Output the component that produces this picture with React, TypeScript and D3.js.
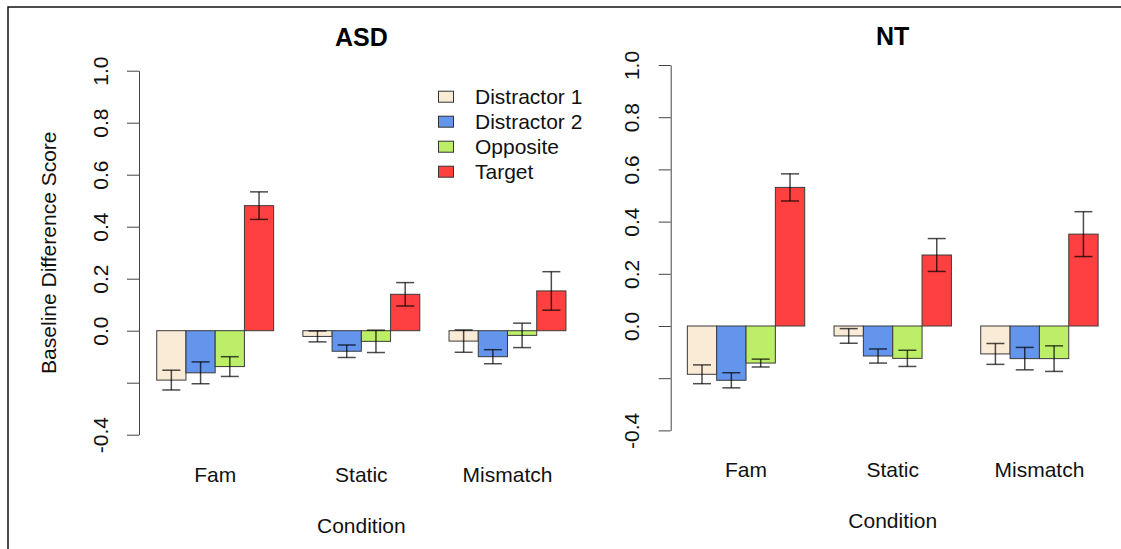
import React, { useEffect, useRef } from 'react';
import * as d3 from 'd3';

// Data
const conditions = ['Fam', 'Static', 'Mismatch'];
const seriesNames = ['Distractor 1', 'Distractor 2', 'Opposite', 'Target'];
const seriesColors = ['#FAEBD7', '#6495ED', '#BCEE68', '#FF4040'];

// means per series, one value per condition
const asdMeans = [
  [-0.19, -0.022, -0.04],
  [-0.162, -0.079, -0.1],
  [-0.138, -0.041, -0.018],
  [0.481, 0.14, 0.153],
];
const asdSE = [
  [0.038, 0.021, 0.043],
  [0.042, 0.024, 0.027],
  [0.038, 0.043, 0.047],
  [0.053, 0.045, 0.074],
];
const ntMeans = [
  [-0.185, -0.038, -0.107],
  [-0.208, -0.115, -0.125],
  [-0.142, -0.124, -0.125],
  [0.531, 0.272, 0.352],
];
const ntSE = [
  [0.036, 0.028, 0.04],
  [0.029, 0.027, 0.043],
  [0.015, 0.031, 0.049],
  [0.052, 0.063, 0.086],
];

const yTicks = [-0.4, -0.2, 0.0, 0.2, 0.4, 0.6, 0.8, 1.0];
const yTickLabels = ['-0.4', '', '0.0', '0.2', '0.4', '0.6', '0.8', '1.0'];

const FONT = '"Liberation Sans", Arial, Helvetica, sans-serif';

type Panel = {
  title: string;
  means: number[][];
  se: number[][];
  x0: number; // pixel of unit 0
  unit: number;
  axisX: number;
  yTop: number; // pixel of 1.0
  yBottom: number; // pixel of -0.4
  titleY: number;
  catY: number;
  xlabY: number;
  ylab: boolean;
  legend: boolean;
};

const panels: Panel[] = [
  {
    title: 'ASD', means: asdMeans, se: asdSE,
    x0: 127.5, unit: 29.23, axisX: 139, yTop: 70.7, yBottom: 434.7,
    titleY: 46, catY: 482, xlabY: 533, ylab: true, legend: true,
  },
  {
    title: 'NT', means: ntMeans, se: ntSE,
    x0: 658, unit: 29.34, axisX: 670.7, yTop: 65, yBottom: 430.4,
    titleY: 45, catY: 477, xlabY: 528, ylab: false, legend: false,
  },
];

const App = () => {
  const svgRef = useRef<SVGSVGElement>(null);

  useEffect(() => {
    document.body.style.margin = '0';
    const svg = d3.select(svgRef.current);
    svg.selectAll('*').remove();

    // outer frame (left + top only)
    svg.append('path')
      .attr('d', 'M8,549 V7 H1121')
      .attr('fill', 'none')
      .attr('stroke', '#111')
      .attr('stroke-width', 1.5);

    panels.forEach(p => {
      const g = svg.append('g').style('font-family', FONT);

      const x = d3.scaleLinear().domain([0, 15]).range([p.x0, p.x0 + 15 * p.unit]);
      const y = d3.scaleLinear().domain([-0.4, 1.0]).range([p.yBottom, p.yTop]);
      const center = (x(0.44) + x(15.56)) / 2;

      // bars
      conditions.forEach((c, ci) => {
        seriesNames.forEach((s, si) => {
          const u = 1 + ci * 5 + si;
          const v = p.means[si][ci];
          g.append('rect')
            .attr('x', x(u))
            .attr('width', x(u + 1) - x(u))
            .attr('y', Math.min(y(v), y(0)))
            .attr('height', Math.abs(y(v) - y(0)))
            .attr('fill', seriesColors[si])
            .attr('stroke', '#3a3a3a')
            .attr('stroke-width', 1);
        });
      });

      // error bars
      conditions.forEach((c, ci) => {
        seriesNames.forEach((s, si) => {
          const u = 1 + ci * 5 + si + 0.5;
          const v = p.means[si][ci];
          const e = p.se[si][ci];
          const cx = x(u);
          const eb = g.append('g')
            .attr('stroke', 'rgba(0,0,0,0.7)')
            .attr('stroke-width', 1.5);
          eb.append('line').attr('x1', cx).attr('x2', cx).attr('y1', y(v - e)).attr('y2', y(v + e));
          [v - e, v + e].forEach(w => {
            eb.append('line').attr('x1', cx - 9).attr('x2', cx + 9).attr('y1', y(w)).attr('y2', y(w));
          });
        });
      });

      // y axis
      const axis = g.append('g')
        .attr('transform', `translate(${p.axisX},0)`)
        .call(d3.axisLeft(y)
          .tickValues(yTicks)
          .tickSize(12)
          .tickSizeOuter(0)
          .tickFormat((d, i) => yTickLabels[i]));
      axis.select('.domain').attr('stroke', '#444');
      axis.selectAll('.tick line').attr('stroke', '#444');
      axis.selectAll('.tick text')
        .attr('x', 0)
        .attr('y', 0)
        .attr('dy', '0.36em')
        .attr('transform', 'translate(-39,0) rotate(-90)')
        .attr('text-anchor', 'middle')
        .attr('fill', '#111')
        .style('font-family', FONT)
        .style('font-size', '21px');

      // category labels
      conditions.forEach((c, ci) => {
        g.append('text')
          .attr('x', x(1 + ci * 5 + 2))
          .attr('y', p.catY)
          .attr('text-anchor', 'middle')
          .style('font-size', '21px')
          .attr('fill', '#111')
          .text(c);
      });

      // x label
      g.append('text')
        .attr('x', center)
        .attr('y', p.xlabY)
        .attr('text-anchor', 'middle')
        .style('font-size', '21px')
        .attr('fill', '#111')
        .text('Condition');

      // title
      g.append('text')
        .attr('x', center)
        .attr('y', p.titleY)
        .attr('text-anchor', 'middle')
        .style('font-size', '25px')
        .style('font-weight', 'bold')
        .attr('fill', '#000')
        .text(p.title);

      // y label
      if (p.ylab) {
        g.append('text')
          .attr('transform', `translate(48,${y(0.3)}) rotate(-90)`)
          .attr('dy', '0.36em')
          .attr('text-anchor', 'middle')
          .style('font-size', '21px')
          .attr('fill', '#111')
          .text('Baseline Difference Score');
      }

      // legend
      if (p.legend) {
        seriesNames.forEach((s, si) => {
          const cy = 96.7 + si * 25;
          g.append('rect')
            .attr('x', 438.5)
            .attr('y', cy - 5.5)
            .attr('width', 15)
            .attr('height', 11)
            .attr('fill', seriesColors[si])
            .attr('stroke', '#333')
            .attr('stroke-width', 1);
          g.append('text')
            .attr('x', 475)
            .attr('y', cy)
            .attr('dy', '0.36em')
            .style('font-size', '21px')
            .attr('fill', '#111')
            .text(s);
        });
      }
    });
  }, []);

  return (
    <svg ref={svgRef} width={1121} height={549} style={{ display: 'block', background: '#fff' }}></svg>
  );
};

export default App;
